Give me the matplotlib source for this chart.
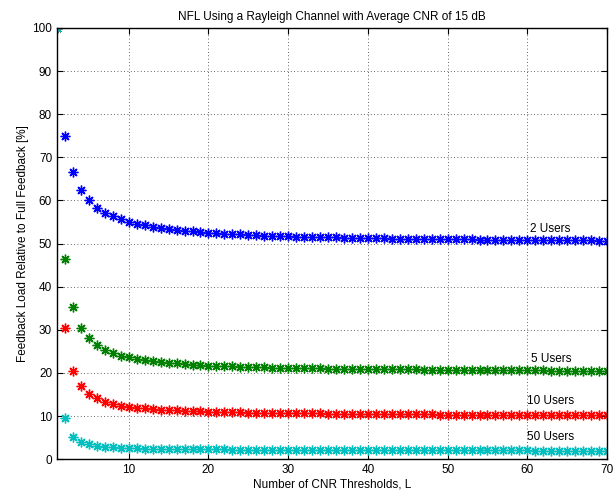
import numpy as np
import matplotlib.pyplot as plt

plt.rcParams['font.family'] = ['Liberation Sans', 'DejaVu Sans']

L = np.arange(1, 71)

users_2 = [100, 75, 66.7, 62.5, 60, 58.3, 57.1, 56.3, 55.6, 55.0,
           54.5, 54.2, 53.8, 53.6, 53.3, 53.1, 52.9, 52.8, 52.6, 52.5,
           52.4, 52.3, 52.2, 52.1, 52.0, 51.9, 51.85, 51.8, 51.7, 51.7,
           51.6, 51.55, 51.5, 51.5, 51.45, 51.4, 51.35, 51.3, 51.3, 51.25,
           51.2, 51.2, 51.15, 51.15, 51.1, 51.1, 51.05, 51.05, 51.0, 51.0,
           51.0, 50.95, 50.95, 50.9, 50.9, 50.9, 50.9, 50.85, 50.85, 50.85,
           50.8, 50.8, 50.8, 50.8, 50.75, 50.75, 50.75, 50.75, 50.7, 50.7]

users_5 = [100, 46.4, 35.2, 30.5, 28.0, 26.4, 25.3, 24.6, 24.0, 23.6,
           23.3, 22.9, 22.7, 22.5, 22.3, 22.2, 22.0, 21.9, 21.8, 21.7,
           21.65, 21.6, 21.5, 21.45, 21.4, 21.35, 21.3, 21.25, 21.2, 21.2,
           21.15, 21.1, 21.1, 21.05, 21.0, 21.0, 20.95, 20.95, 20.9, 20.9,
           20.9, 20.85, 20.85, 20.8, 20.8, 20.8, 20.75, 20.75, 20.75, 20.7,
           20.7, 20.7, 20.7, 20.65, 20.65, 20.65, 20.65, 20.6, 20.6, 20.6,
           20.6, 20.6, 20.55, 20.55, 20.55, 20.55, 20.55, 20.5, 20.5, 20.5]

users_10 = [100, 30.3, 20.5, 17.0, 15.2, 14.1, 13.3, 12.8, 12.4, 12.1,
            11.9, 11.75, 11.6, 11.5, 11.4, 11.3, 11.2, 11.15, 11.1, 11.0,
            10.95, 10.9, 10.9, 10.85, 10.8, 10.8, 10.75, 10.7, 10.7, 10.65,
            10.65, 10.6, 10.6, 10.6, 10.55, 10.55, 10.5, 10.5, 10.5, 10.5,
            10.45, 10.45, 10.45, 10.4, 10.4, 10.4, 10.4, 10.4, 10.35, 10.35,
            10.35, 10.35, 10.35, 10.3, 10.3, 10.3, 10.3, 10.3, 10.3, 10.3,
            10.25, 10.25, 10.25, 10.25, 10.25, 10.25, 10.2, 10.2, 10.2, 10.2]

users_50 = [100, 9.5, 5.2, 4.0, 3.4, 3.1, 2.9, 2.75, 2.65, 2.55,
            2.5, 2.45, 2.4, 2.4, 2.35, 2.35, 2.3, 2.3, 2.3, 2.25,
            2.25, 2.25, 2.2, 2.2, 2.2, 2.2, 2.2, 2.15, 2.15, 2.15,
            2.15, 2.15, 2.15, 2.1, 2.1, 2.1, 2.1, 2.1, 2.1, 2.1,
            2.1, 2.1, 2.1, 2.1, 2.1, 2.05, 2.05, 2.05, 2.05, 2.05,
            2.05, 2.05, 2.05, 2.05, 2.05, 2.05, 2.05, 2.05, 2.05, 2.05,
            2.0, 2.0, 2.0, 2.0, 2.0, 2.0, 2.0, 2.0, 2.0, 2.0]

series = [users_2, users_5, users_10, users_50]
colors = ['#0000ff', '#008000', '#ff0000', '#00bfbf']
labels = ['2 Users', '5 Users', '10 Users', '50 Users']
label_pos = [(60.3, 53.3), (60.4, 23.3), (60.0, 13.4), (59.9, 5.2)]

fig = plt.figure(figsize=(6.16, 4.98), dpi=100)
ax = fig.add_axes([0.0925, 0.078, 0.893, 0.866])

# matlab-style asterisk marker (8 spokes)
for y, c in zip(series, colors):
    ax.plot(L, y, linestyle='none', marker=(8, 2, 0), color=c,
            markersize=7, markeredgewidth=1.0)

for lab, (x, y) in zip(labels, label_pos):
    ax.text(x, y, lab, fontsize=8.5, ha='left', va='center')

ax.set_xlim(1, 70)
ax.set_ylim(0, 100)
ax.set_xticks(range(10, 71, 10))
ax.set_yticks(range(0, 101, 10))
ax.grid(True, linestyle=(0, (1, 3)), color='black', linewidth=0.6, alpha=0.8)
ax.tick_params(direction='in', top=True, right=True, labelsize=8.5, length=4)
for s in ax.spines.values():
    s.set_linewidth(1.0)

ax.set_title('NFL Using a Rayleigh Channel with Average CNR of 15 dB', fontsize=8.5)
ax.set_xlabel('Number of CNR Thresholds, L', fontsize=8.5, labelpad=2)
ax.set_ylabel('Feedback Load Relative to Full Feedback [%]', fontsize=8.5, labelpad=2)

fig.savefig('out.png', dpi=100)
